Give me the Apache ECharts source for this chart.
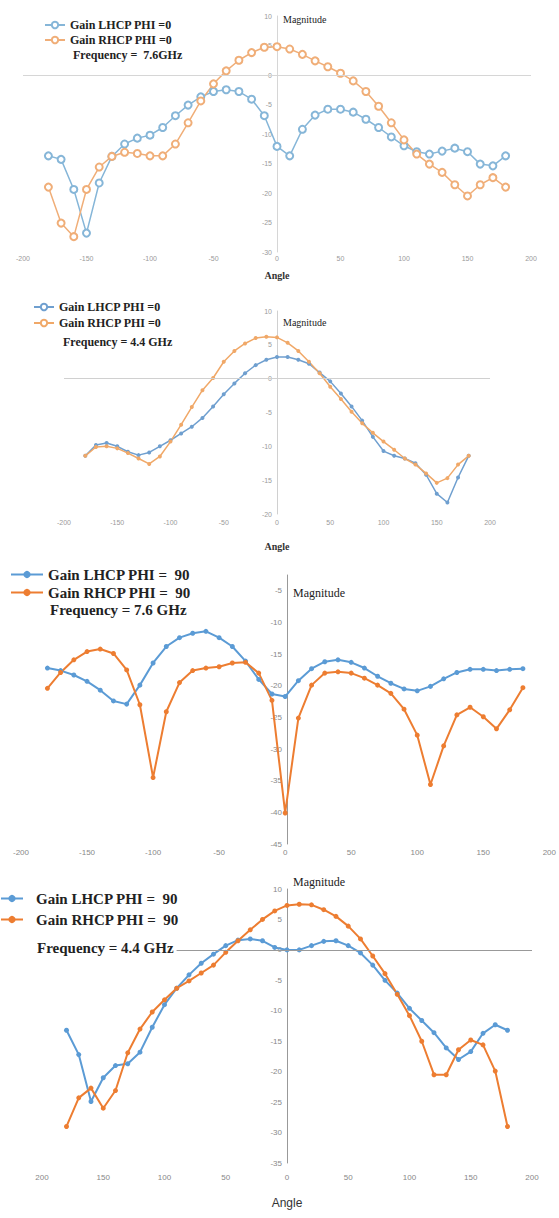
<!DOCTYPE html>
<html>
<head>
<meta charset="utf-8">
<script src="https://cdn.jsdelivr.net/npm/echarts@6/dist/echarts.min.js"></script>
<style>
html,body{margin:0;padding:0;background:#fff;}
#chart{width:559px;height:1218px;}
</style>
</head>
<body>
<div id="chart"></div>
<script>
// Angles (degrees) shared by all four panels
const angles = [-180,-170,-160,-150,-140,-130,-120,-110,-100,-90,-80,-70,-60,-50,-40,-30,-20,-10,0,
                10,20,30,40,50,60,70,80,90,100,110,120,130,140,150,160,170,180];

// Panel 1: 7.6 GHz, PHI = 0
const p1Lhcp = [-13.7,-14.3,-19.4,-26.8,-18.3,-13.8,-11.7,-10.7,-10.2,-8.9,-6.9,-5.1,-3.7,-2.8,-2.5,-2.8,-4.1,-6.9,-12.1,
                -13.7,-9.2,-6.8,-5.8,-5.8,-6.3,-7.5,-8.9,-10.5,-12.0,-13.0,-13.4,-12.9,-12.4,-13.0,-15.1,-15.4,-13.7];
const p1Rhcp = [-19.0,-25.1,-27.4,-19.4,-15.6,-13.8,-13.1,-13.3,-13.7,-13.7,-11.7,-8.1,-4.4,-1.5,0.7,2.5,3.8,4.7,4.8,
                4.4,3.5,2.4,1.4,0.3,-1.0,-2.8,-5.3,-8.1,-11.0,-13.4,-15.1,-16.5,-18.6,-20.5,-18.6,-17.4,-19.0];

// Panel 2: 4.4 GHz, PHI = 0
const p2Lhcp = [-11.4,-9.8,-9.5,-10.0,-10.8,-11.3,-10.9,-10.0,-9.1,-8.1,-7.1,-5.8,-4.1,-2.3,-0.7,0.8,2.0,2.8,3.2,
                3.2,2.8,2.2,0.9,-0.4,-2.2,-4.1,-6.2,-8.6,-10.7,-11.4,-11.8,-12.5,-14.2,-17.0,-18.3,-14.6,-11.4];
const p2Rhcp = [-11.4,-10.1,-10.0,-10.3,-11.0,-11.8,-12.6,-11.5,-9.3,-6.8,-4.2,-1.7,0.1,2.5,4.1,5.2,6.0,6.2,6.1,
                5.3,4.1,2.5,0.8,-1.2,-3.0,-4.9,-6.6,-8.0,-9.3,-10.5,-11.8,-12.7,-14.0,-15.4,-14.7,-12.7,-11.4];

// Panel 3: 7.6 GHz, PHI = 90
const p3Lhcp = [-17.2,-17.6,-18.3,-19.3,-20.7,-22.4,-22.9,-19.9,-16.4,-13.8,-12.4,-11.7,-11.4,-12.4,-13.8,-16.1,-19.0,-21.3,-21.7,
                -19.2,-17.3,-16.2,-15.9,-16.3,-17.2,-18.5,-19.6,-20.5,-20.8,-20.1,-18.9,-17.9,-17.4,-17.4,-17.6,-17.4,-17.3];
const p3Rhcp = [-20.4,-17.9,-15.9,-14.6,-14.2,-14.9,-17.5,-23.0,-34.5,-24.1,-19.5,-17.6,-17.2,-17.0,-16.4,-16.3,-18.0,-22.3,-40.1,
                -25.1,-19.9,-18.0,-17.8,-18.0,-18.8,-19.9,-21.2,-23.7,-27.8,-35.6,-29.5,-24.6,-23.4,-24.9,-26.8,-23.8,-20.3];

// Panel 4: 4.4 GHz, PHI = 90
const p4Lhcp = [-13.2,-17.2,-24.9,-21.0,-19.0,-18.7,-16.8,-12.7,-9.0,-6.3,-4.1,-2.2,-0.7,0.7,1.6,1.8,1.5,0.4,0.0,
                0.0,0.7,1.4,1.5,0.7,-0.5,-2.5,-5.0,-7.1,-9.6,-11.6,-13.6,-16.1,-18.0,-16.7,-13.7,-12.3,-13.2];
const p4Rhcp = [-29.0,-24.3,-22.7,-26.0,-23.1,-16.9,-13.0,-10.2,-8.2,-6.3,-5.1,-3.8,-2.5,-0.4,1.5,3.3,5.0,6.4,7.3,
                7.5,7.4,6.6,5.5,3.9,1.8,-1.0,-3.9,-7.3,-10.8,-15.0,-20.5,-20.5,-16.4,-14.8,-15.6,-19.9,-29.0];

// Axis ranges / tick labels
const xRange = {min: -200, max: 200, interval: 50};
const yRanges = [
  {min: -30, max: 10, interval: 5, showMax: true},
  {min: -20, max: 10, interval: 5, showMax: true},
  {min: -45, max: -2.5, interval: 5, showMax: false},
  {min: -35, max: 10, interval: 5, showMax: true}
];

// Legend / annotation texts
const legendNames = [
  ['Gain LHCP PHI =0', 'Gain RHCP PHI =0'],
  ['Gain LHCP PHI =0', 'Gain RHCP PHI =0'],
  ['Gain LHCP PHI =  90', 'Gain RHCP PHI =  90'],
  ['Gain LHCP PHI =  90', 'Gain RHCP PHI =  90']
];
const freqTexts = ['Frequency =  7.6GHz', 'Frequency = 4.4 GHz', 'Frequency = 7.6 GHz', 'Frequency = 4.4 GHz'];
const yName = 'Magnitude';
const xName = 'Angle';

const panelData = [[p1Lhcp, p1Rhcp], [p2Lhcp, p2Rhcp], [p3Lhcp, p3Rhcp], [p4Lhcp, p4Rhcp]];

// Styling per panel
const styles = [
  {grid:{left:23, top:16, width:508, height:236}, colors:['#86b6d8','#f0ae78'], symbol:'emptyCircle', size:7, lw:1.5,
   axisColor:'#d6d6d6', labelSize:7, labelColor:'#9a9a9a', xMargin:3, xNameGap:18, showXName:true, magY:20,
   nameSize:10, zeroLine:true,
   legend:{left:44, top:19, itemWidth:20, itemHeight:8, itemGap:3, fontSize:12},
   freq:{left:73, top:49, fontSize:12}},
  {grid:{left:64, top:311, width:426, height:203}, colors:['#6f9fcf','#f0a868'], symbol:'circle', size:4, lw:1.5,
   axisColor:'#d0d0d0', labelSize:7, labelColor:'#9a9a9a', xMargin:5, xNameGap:27, showXName:true, magY:323,
   nameSize:10, zeroLine:true,
   legend:{left:33, top:301, itemWidth:20, itemHeight:8, itemGap:4, fontSize:12},
   freq:{left:63, top:336, fontSize:12}},
  {grid:{left:21, top:575, width:532, height:269}, colors:['#5b9bd5','#ed7d31'], symbol:'circle', size:5, lw:2,
   axisColor:'#999999', labelSize:8, labelColor:'#888888', xMargin:4, xNameGap:30, showXName:false, magY:594,
   nameSize:12, zeroLine:false,
   legend:{left:10, top:567, itemWidth:32, itemHeight:9, itemGap:3, fontSize:15},
   freq:{left:50, top:602, fontSize:15}},
  {grid:{left:42, top:889, width:490, height:274}, colors:['#5b9bd5','#ed7d31'], symbol:'circle', size:5, lw:2,
   axisColor:'#999999', labelSize:8, labelColor:'#888888', xMargin:10, xNameGap:34, showXName:true, magY:883,
   nameSize:12, zeroLine:true, absX:true,
   legend:{left:0, top:891, itemWidth:22, itemHeight:9, itemGap:6, fontSize:15, textPad:8},
   freq:{left:37, top:940, fontSize:15}}
];

const grids = [], xAxes = [], yAxes = [], series = [], legends = [], titles = [];

styles.forEach((s, i) => {
  grids.push(Object.assign({}, s.grid, {containLabel:false}));
  // pixel distance from grid left edge to the angle-0 position, used to place the vertical axis there
  const zeroShift = s.grid.width * (0 - xRange.min) / (xRange.max - xRange.min);
  const axisX = s.grid.left + zeroShift;
  xAxes.push({
    gridIndex: i, type: 'value', min: xRange.min, max: xRange.max, interval: xRange.interval,
    axisLine: {show: false, onZero: false}, axisTick: {show: false}, splitLine: {show: false},
    axisLabel: {fontSize: s.labelSize, color: s.labelColor, margin: s.xMargin, fontFamily: 'Liberation Sans',
      showMinLabel: true, showMaxLabel: true,
      formatter: s.absX ? (v => String(Math.abs(v))) : (v => String(v))},
    name: s.showXName ? xName : '', nameLocation: 'middle', nameGap: s.xNameGap,
    nameTextStyle: {fontSize: s.nameSize, color: '#333', fontFamily: i === 3 ? 'Liberation Sans' : 'Liberation Serif', fontWeight: i === 3 ? 'normal' : 'bold'}
  });
  const yr = yRanges[i];
  yAxes.push({
    gridIndex: i, type: 'value', min: yr.min, max: yr.max, interval: yr.interval,
    position: 'left', offset: -zeroShift,
    axisLine: {show: true, onZero: false, lineStyle: {color: s.axisColor, width: 1}},
    axisTick: {show: false}, splitLine: {show: false},
    axisLabel: {fontSize: s.labelSize, color: s.labelColor, margin: 5, fontFamily: 'Liberation Sans',
      showMinLabel: true, showMaxLabel: yr.showMax, hideOverlap: false,
      formatter: v => (v % yr.interval === 0 ? String(v) : '')}
  });
  panelData[i].forEach((vals, k) => {
    const ser = {
      type: 'line', name: legendNames[i][k], xAxisIndex: i, yAxisIndex: i,
      data: angles.map((a, j) => [a, vals[j]]),
      symbol: s.symbol, symbolSize: s.size, showSymbol: true,
      lineStyle: {color: s.colors[k], width: s.lw},
      itemStyle: {color: s.colors[k], borderColor: s.colors[k], borderWidth: s.symbol === 'emptyCircle' ? 1.5 : 0},
      emphasis: {disabled: true}, animation: false, z: 3
    };
    if (k === 0 && s.zeroLine) {
      ser.markLine = {
        silent: true, symbol: ['none','none'], label: {show: false}, animation: false,
        lineStyle: {color: s.axisColor, width: 1, type: 'solid'}, emphasis: {disabled: true},
        data: [{yAxis: 0}]
      };
    }
    series.push(ser);
  });
  legends.push({
    orient: 'vertical', left: s.legend.left, top: s.legend.top, padding: 0,
    itemWidth: s.legend.itemWidth, itemHeight: s.legend.itemHeight, itemGap: s.legend.itemGap,
    selectedMode: false,
    textStyle: {fontSize: s.legend.fontSize, fontWeight: 'bold', fontFamily: 'Liberation Serif', color: '#222',
      padding: [0,0,0,s.legend.textPad || 0]},
    data: legendNames[i].map((n, k) => ({name: n, itemStyle: {color: s.colors[k], borderColor: s.colors[k]}, lineStyle: {color: s.colors[k]}}))
  });
  titles.push({
    text: freqTexts[i], left: s.freq.left, top: s.freq.top, padding: [0,3,0,0],
    backgroundColor: '#ffffff',
    textStyle: {fontSize: s.freq.fontSize, fontWeight: 'bold', fontFamily: 'Liberation Serif', color: '#222'}
  });
  // "Magnitude" label just right of the vertical axis
  titles.push({
    text: yName, left: axisX + 6, top: s.magY - s.nameSize / 2 - 1, padding: 0,
    textStyle: {fontSize: s.nameSize, fontWeight: 'normal', fontFamily: 'Liberation Serif', color: '#222'}
  });
});

const chart = echarts.init(document.getElementById('chart'), null, {renderer: 'svg'});
chart.setOption({
  animation: false,
  backgroundColor: '#ffffff',
  title: titles,
  legend: legends,
  grid: grids,
  xAxis: xAxes,
  yAxis: yAxes,
  series: series
});
</script>
</body>
</html>
